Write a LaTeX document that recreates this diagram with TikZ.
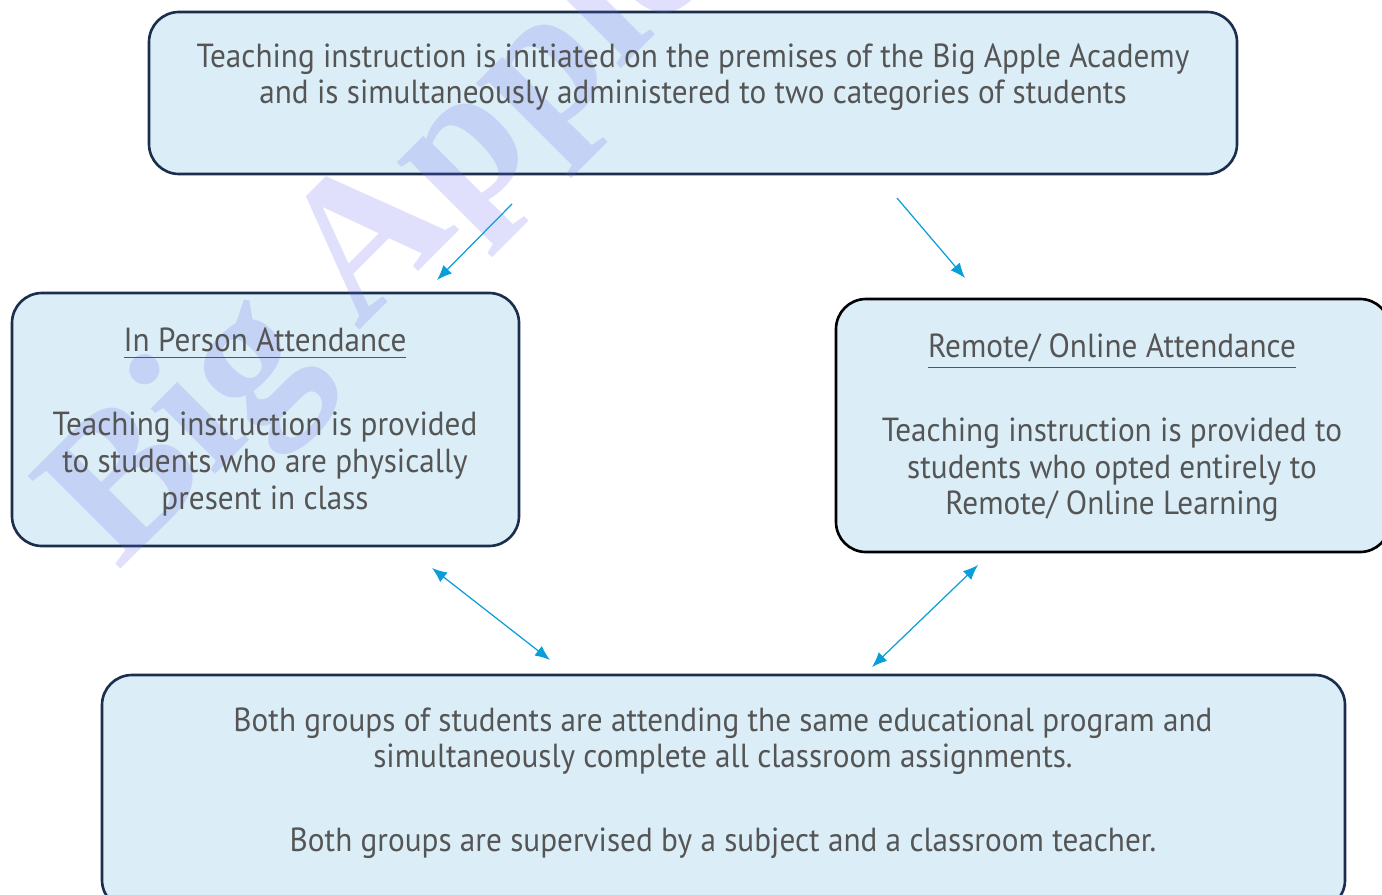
\documentclass[tikz,border=0pt]{standalone}
\usepackage{fontspec}
\setmainfont{PT Sans}[FakeStretch=0.935]
\newfontfamily\markfont{Liberation Serif}
\usetikzlibrary{arrows.meta}
\definecolor{boxfill}{HTML}{DBEEF7}
\definecolor{boxline}{HTML}{1B2E4D}
\definecolor{textgray}{HTML}{555555}
\definecolor{arrowcolor}{HTML}{0A9ED9}
\definecolor{markcolor}{HTML}{6464F0}

\begin{document}
\begin{tikzpicture}[x=0.1mm,y=-0.1mm,>={Latex[length=1.5mm,width=1.2mm]},
  box/.style={draw=boxline,fill=boxfill,rounded corners=3mm,line width=0.75pt},
  txt/.style={text=textgray,align=center,font=\fontsize{9.5}{10.4}\selectfont,inner sep=0pt},
  link/.style={arrowcolor,line width=0.35pt}]
\useasboundingbox (0,0) rectangle (1382,894);

\node[box,minimum width=108.8mm,minimum height=16.2mm] (academy) at (693,93) {};
\node[box,minimum width=50.7mm,minimum height=25.3mm] (inperson) at (265.5,419.5) {};
\node[box,draw=black,minimum width=55.4mm,minimum height=25.3mm] (remote) at (1113,425.5) {};
\node[box,minimum width=124.3mm,minimum height=23.5mm] (program) at (723.5,792.5) {};

% watermark
\node[markcolor,opacity=0.2,rotate=45,anchor=base west,inner sep=0pt,
  font=\markfont\bfseries\fontsize{57}{57}\selectfont] (mark) at (118,572) {Big Apple};

\node[txt] (academytxt) at (693,77) {Teaching instruction is initiated on the premises of the Big Apple Academy\\and is simultaneously administered to two categories of students};
\node[txt] (inpersontxt) at (265,422) {\underline{In Person Attendance}\\[13.5pt]Teaching instruction is provided\\to students who are physically\\present in class};
\node[txt] (remotetxt) at (1112,428) {\underline{Remote/ Online Attendance}\\[13.5pt]Teaching instruction is provided to\\students who opted entirely to\\Remote/ Online Learning};
\node[txt] (programtxt) at (723,783) {Both groups of students are attending the same educational program and\\simultaneously complete all classroom assignments.\\[13.5pt]Both groups are supervised by a subject and a classroom teacher.};

\coordinate (leftfrom) at (512,204);
\coordinate (leftto) at (437,280);
\coordinate (rightfrom) at (897,198);
\coordinate (rightto) at (965,278);
\coordinate (inpersonend) at (432,568);
\coordinate (programleft) at (550,660);
\coordinate (remoteend) at (978,565);
\coordinate (programright) at (872,667);

\draw[link,->] (leftfrom) -- (leftto);
\draw[link,->] (rightfrom) -- (rightto);
\draw[link,<->] (inpersonend) -- (programleft);
\draw[link,<->] (remoteend) -- (programright);
\end{tikzpicture}
\end{document}
